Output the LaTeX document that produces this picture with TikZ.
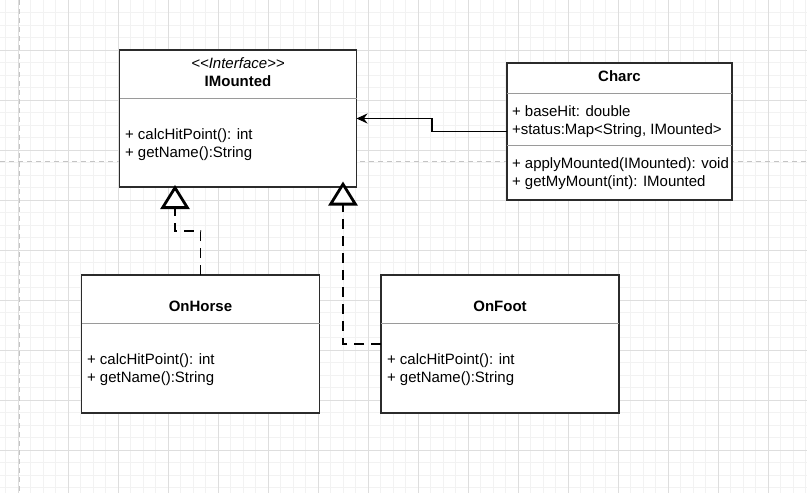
\documentclass[tikz,border=0pt]{standalone}
\usepackage{fontspec}
\setmainfont{Liberation Sans}
\usetikzlibrary{arrows.meta,calc}
\definecolor{gridminor}{HTML}{F2F2F2}
\definecolor{gridmajor}{HTML}{DEDEDE}
\definecolor{pagebreak}{HTML}{C4C4C4}
\definecolor{boxline}{HTML}{2B2B2B}
\definecolor{sepline}{HTML}{9A9A9A}
\begin{document}
\begin{tikzpicture}[x=1pt,y=-1pt,
  every node/.style={font=\fontsize{15}{18}\selectfont, inner sep=0pt, outer sep=0pt},
  umlbox/.style={draw=boxline, line width=1.4pt, fill=white, rectangle},
  sep/.style={draw=sepline, line width=1pt},
  member/.style={anchor=base west},
  title/.style={anchor=base, font=\fontsize{15}{18}\selectfont\bfseries},
  realize/.style={draw=black, line width=1.5pt, dash pattern=on 10pt off 7pt,
    -{Triangle[open, fill=white, length=24pt, width=29pt, line width=2.8pt]}},
  assoc/.style={draw=black, line width=1.5pt, -{Stealth[length=11pt, width=10pt]}}
]
\useasboundingbox (0,0) rectangle (807,493);
\fill[white] (0,0) rectangle (807,493);
% grid
\foreach \k in {0,...,64} {
  \draw[gridminor, line width=0.8pt] ({5.5+12.5*\k},0) -- ({5.5+12.5*\k},493);
}
\foreach \k in {1,...,39} {
  \draw[gridminor, line width=0.8pt] (0,{12.5*\k}) -- (807,{12.5*\k});
}
\foreach \k in {0,...,15} {
  \draw[gridmajor, line width=0.9pt] ({18+50*\k},0) -- ({18+50*\k},493);
}
\foreach \k in {1,...,9} {
  \draw[gridmajor, line width=0.9pt] (0,{50*\k}) -- (807,{50*\k});
}
\draw[pagebreak, line width=1pt, dash pattern=on 5pt off 4pt] (19,0) -- (19,493);
\draw[pagebreak, line width=1pt, dash pattern=on 5pt off 4pt] (0,161.5) -- (807,161.5);

% boxes
\node[umlbox, minimum width=237pt, minimum height=137pt] (IMounted) at (238,118.5) {};
\node[umlbox, minimum width=225pt, minimum height=137pt] (Charc) at (619.5,131.5) {};
\node[umlbox, minimum width=238pt, minimum height=138pt] (OnHorse) at (200.5,344) {};
\node[umlbox, minimum width=238pt, minimum height=138pt] (OnFoot) at (500,344) {};

% separators
\draw[sep] (IMounted.west |- 0,98.3) -- (IMounted.east |- 0,98.3);
\draw[sep] (Charc.west |- 0,93.3) -- (Charc.east |- 0,93.3);
\draw[sep] (Charc.west |- 0,145) -- (Charc.east |- 0,145);
\draw[sep] (OnHorse.west |- 0,323.3) -- (OnHorse.east |- 0,323.3);
\draw[sep] (OnFoot.west |- 0,323.3) -- (OnFoot.east |- 0,323.3);

% IMounted texts
\node[anchor=base, font=\fontsize{15}{18}\selectfont\itshape] (imSt) at (238,68.3) {{<}{<}Interface{>}{>}};
\node[title] (imT) at (238,86.7) {IMounted};
\node[member] (imM1) at (125,139.3) {+ calcHitPoint(): int};
\node[member] (imM2) at (125,157.3) {+ getName():String};

% Charc texts
\node[title] (chT) at (619.5,81) {Charc};
\node[member] (chA1) at (512,116) {+ baseHit: double};
\node[member] (chA2) at (512,134) {+status:Map{<}String, IMounted{>}};
\node[member] (chM1) at (512,168.3) {+ applyMounted(IMounted): void};
\node[member] (chM2) at (512,186.3) {+ getMyMount(int): IMounted};

% OnHorse texts
\node[title] (ohT) at (200.5,311.7) {OnHorse};
\node[member] (ohM1) at (87,364) {+ calcHitPoint(): int};
\node[member] (ohM2) at (87,382) {+ getName():String};

% OnFoot texts
\node[title] (ofT) at (500,311.7) {OnFoot};
\node[member] (ofM1) at (387,364) {+ calcHitPoint(): int};
\node[member] (ofM2) at (387,382) {+ getName():String};

% connectors
\coordinate (tipA) at (175,185);
\coordinate (tipB) at (343,181.5);
\draw[realize] (OnHorse.north) -- ++(0,-44) -| (tipA);
\draw[realize] (OnFoot.west) -| (tipB);
\draw[assoc] (Charc.west) -- ++(-75,0) |- (IMounted.east);
\end{tikzpicture}
\end{document}
